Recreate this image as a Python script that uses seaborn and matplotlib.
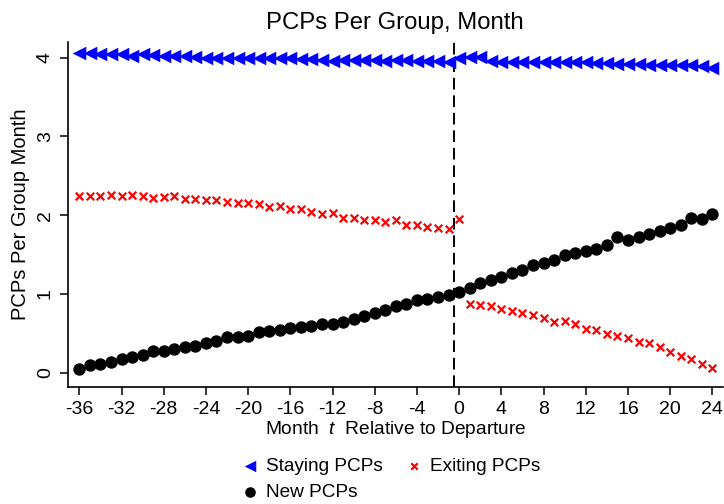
import numpy as np
import pandas as pd
import matplotlib
matplotlib.use("Agg")
import matplotlib.pyplot as plt
import seaborn as sns

# Months relative to the departure of a PCP
months = list(range(-36, 25))

staying_pcps = [
    4.06, 4.06, 4.05, 4.05, 4.04, 4.02, 4.04, 4.03, 4.02, 4.02,
    4.02, 4.01, 4.00, 3.99, 4.00, 3.99, 4.00, 4.00, 4.00, 3.99,
    3.99, 3.98, 3.98, 3.97, 3.96, 3.97, 3.97, 3.97, 3.97, 3.96,
    3.97, 3.97, 3.96, 3.96, 3.96, 3.95, 4.00, 4.01, 4.01, 3.96,
    3.95, 3.95, 3.95, 3.94, 3.94, 3.94, 3.94, 3.94, 3.94, 3.93,
    3.93, 3.92, 3.92, 3.92, 3.91, 3.91, 3.91, 3.90, 3.90, 3.89,
    3.87,
]

exiting_pcps = [
    2.25, 2.25, 2.25, 2.26, 2.25, 2.26, 2.25, 2.22, 2.23, 2.25,
    2.21, 2.21, 2.19, 2.19, 2.17, 2.16, 2.15, 2.14, 2.11, 2.12,
    2.08, 2.08, 2.04, 2.02, 2.03, 1.96, 1.96, 1.94, 1.94, 1.91,
    1.94, 1.87, 1.87, 1.85, 1.84, 1.82, 1.95, 0.88, 0.86, 0.85,
    0.81, 0.78, 0.76, 0.74, 0.69, 0.64, 0.66, 0.62, 0.56, 0.55,
    0.49, 0.47, 0.44, 0.39, 0.38, 0.33, 0.27, 0.22, 0.17, 0.11,
    0.06,
]

new_pcps = [
    0.05, 0.10, 0.11, 0.14, 0.17, 0.20, 0.23, 0.28, 0.28, 0.30,
    0.33, 0.34, 0.38, 0.41, 0.46, 0.45, 0.47, 0.52, 0.53, 0.55,
    0.57, 0.58, 0.60, 0.62, 0.62, 0.65, 0.68, 0.72, 0.76, 0.80,
    0.85, 0.87, 0.92, 0.94, 0.96, 0.99, 1.03, 1.08, 1.14, 1.18,
    1.22, 1.27, 1.31, 1.37, 1.40, 1.43, 1.50, 1.52, 1.55, 1.57,
    1.62, 1.72, 1.68, 1.73, 1.76, 1.80, 1.84, 1.88, 1.96, 1.95,
    2.02,
]

x_ticks = list(range(-36, 25, 4))
y_ticks = [0, 1, 2, 3, 4]

df = pd.DataFrame({
    "month": months,
    "staying": staying_pcps,
    "exiting": exiting_pcps,
    "new": new_pcps,
})

sns.set_style("ticks")
plt.rcParams["font.family"] = ["Liberation Sans", "DejaVu Sans"]
plt.rcParams["mathtext.fontset"] = "custom"
plt.rcParams["mathtext.it"] = "Liberation Sans:italic"
plt.rcParams["mathtext.rm"] = "Liberation Sans"
for key in ("text.color", "axes.labelcolor", "xtick.color", "ytick.color",
            "axes.edgecolor"):
    plt.rcParams[key] = "black"

fig = plt.figure(figsize=(7.24, 5.04), dpi=100)
ax = fig.add_axes([0.0935, 0.232, 0.905, 0.685])

sns.scatterplot(data=df, x="month", y="staying", ax=ax, marker="<",
                color="#0000FF", s=95, linewidth=0, label="Staying PCPs",
                zorder=3)
sns.scatterplot(data=df, x="month", y="exiting", ax=ax, marker="x",
                color="#FF0000", s=30, linewidth=1.6, label="Exiting PCPs",
                zorder=3)
sns.scatterplot(data=df, x="month", y="new", ax=ax, marker="o",
                color="black", s=80, linewidth=0, label="New PCPs",
                zorder=3)

ax.axvline(-0.5, color="black", linewidth=1.4, linestyle=(0, (6, 3)),
           zorder=2)

ax.set_xlim(-37.1, 25.0)
ax.set_ylim(-0.18, 4.2)
ax.set_xticks(x_ticks)
ax.set_xticklabels([str(t) for t in x_ticks], fontsize=14)
ax.set_yticks(y_ticks)
ax.set_yticklabels([str(t) for t in y_ticks], fontsize=14, rotation=90,
                   va="center")
ax.tick_params(axis="both", length=6, width=1.1, color="black", pad=4)

for side in ("top", "right"):
    ax.spines[side].set_visible(False)
for side in ("left", "bottom"):
    ax.spines[side].set_linewidth(1.2)
    ax.spines[side].set_color("black")

ax.set_xlabel(r"Month  $\mathit{t}$  Relative to Departure", fontsize=13.8,
              labelpad=1)
ax.set_ylabel("PCPs Per Group Month", fontsize=14.5, labelpad=5)
ax.set_title("PCPs Per Group, Month", fontsize=17.2, pad=9)

handles, labels = ax.get_legend_handles_labels()
ax.get_legend().remove()
order = [0, 2, 1]
fig.legend([handles[i] for i in order], [labels[i] for i in order],
           loc="upper left", bbox_to_anchor=(0.322, 0.107), ncol=2,
           frameon=False, fontsize=13.7, handletextpad=0.34,
           columnspacing=1.13, labelspacing=0.43, handlelength=1.0,
           borderaxespad=0, markerscale=0.85)

fig.savefig("out.png", dpi=100)
